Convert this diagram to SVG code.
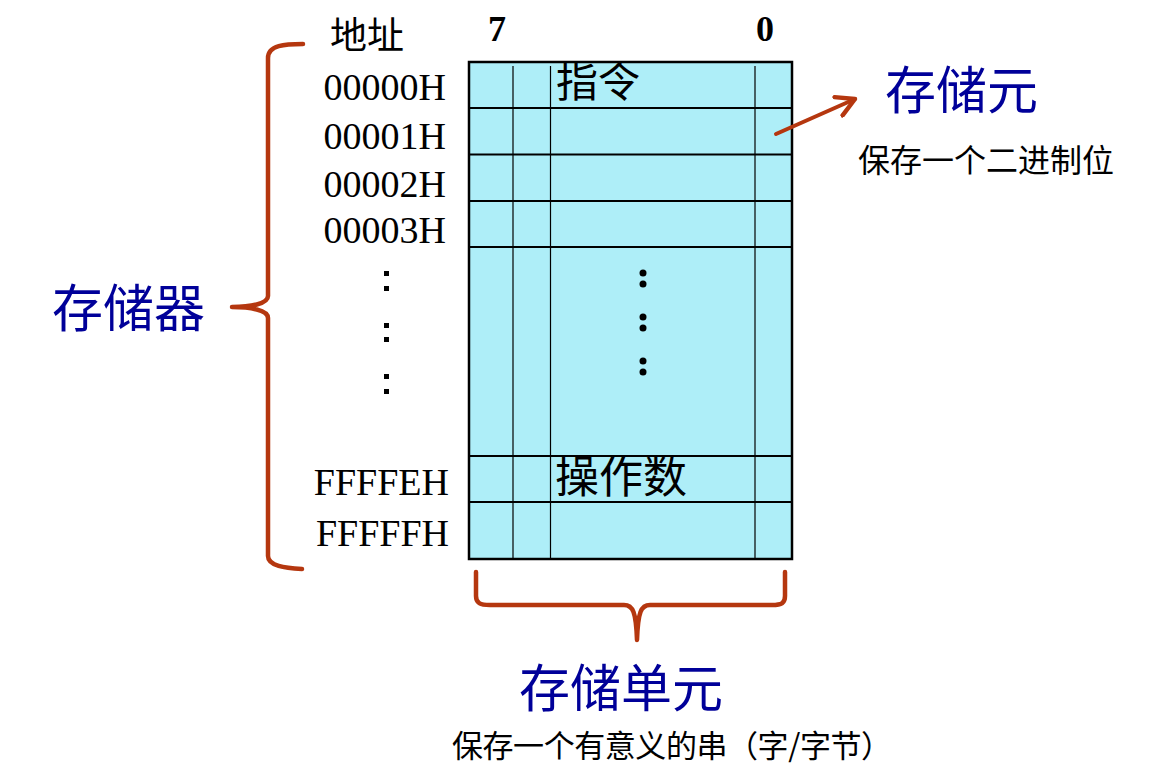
<svg xmlns="http://www.w3.org/2000/svg" width="1161" height="777" viewBox="0 0 1161 777">
<style>
.addr{font-family:"Liberation Serif","Times New Roman",serif;font-size:38px;fill:#000;text-anchor:end}
.bit{font-family:"Liberation Serif",serif;font-size:36px;font-weight:bold;fill:#000;text-anchor:middle}
.cn{font-family:"Noto Sans CJK SC",sans-serif;fill:#000}
.title{font-family:"Noto Sans CJK SC",sans-serif;fill:#000099;font-size:51px}
.brace{fill:none;stroke:#B5370F;stroke-width:4.5;stroke-linecap:round;stroke-linejoin:round}
.row{stroke:#000;stroke-width:2}
.col{stroke:#000;stroke-width:1.2}
</style>
<defs>
<marker id="arr" viewBox="0 0 12 12" refX="10" refY="6" markerWidth="6" markerHeight="6" orient="auto" markerUnits="strokeWidth">
<path d="M1,1 L10,6 L1,11" fill="none" stroke="#B5370F" stroke-width="2.2" stroke-linecap="round" stroke-linejoin="round"/>
</marker>
</defs>
<rect width="1161" height="777" fill="#fff"/>

<g id="memory">
<rect x="469" y="62" width="323" height="497" fill="#AEEEF8"/>
<line class="col" x1="513" y1="66" x2="513" y2="559"/>
<line class="col" x1="550.5" y1="66" x2="550.5" y2="559"/>
<line class="col" x1="755" y1="66" x2="755" y2="559"/>
<line class="row" x1="469" y1="108" x2="792" y2="108"/>
<line class="row" x1="469" y1="154.5" x2="792" y2="154.5"/>
<line class="row" x1="469" y1="201" x2="792" y2="201"/>
<line class="row" x1="469" y1="247" x2="792" y2="247"/>
<line class="row" x1="469" y1="456" x2="792" y2="456"/>
<line class="row" x1="469" y1="502" x2="792" y2="502"/>
<rect x="469" y="62" width="323" height="497" fill="none" stroke="#000" stroke-width="2.5"/>
<text class="cn" x="556" y="97" font-size="42">指令</text>
<text class="cn" x="555" y="493" font-size="44">操作数</text>
<g fill="#000">
<circle cx="643" cy="273" r="3.5"/><circle cx="643" cy="284" r="3.5"/>
<circle cx="643" cy="317" r="3.5"/><circle cx="643" cy="328" r="3.5"/>
<circle cx="643" cy="361" r="3.5"/><circle cx="643" cy="372" r="3.5"/>
</g>
</g>

<g id="bits">
<text class="bit" x="497" y="41">7</text>
<text class="bit" x="765" y="41">0</text>
</g>

<g id="addresses">
<text class="cn" x="330" y="49" font-size="37">地址</text>
<text class="addr" x="446" y="100">00000H</text>
<text class="addr" x="446" y="149">00001H</text>
<text class="addr" x="446" y="197">00002H</text>
<text class="addr" x="446" y="243">00003H</text>
<text class="addr" x="449" y="495">FFFFEH</text>
<text class="addr" x="449" y="546">FFFFFH</text>
<g fill="#000">
<rect x="384" y="271" width="5" height="5"/><rect x="384" y="286" width="5" height="5"/>
<rect x="384" y="323" width="5" height="5"/><rect x="384" y="337" width="5" height="5"/>
<rect x="384" y="374" width="5" height="5"/><rect x="384" y="389" width="5" height="5"/>
</g>
</g>

<g id="storage-label">
<text class="title" x="52" y="327">存储器</text>
</g>

<g id="cell-label">
<text class="title" x="885" y="109">存储元</text>
<text class="cn" x="858" y="172" font-size="32">保存一个二进制位</text>
</g>

<g id="unit-label">
<text class="title" x="519" y="707">存储单元</text>
<text class="cn" x="452" y="757" font-size="31" textLength="440" lengthAdjust="spacing">保存一个有意义的串（字/字节）</text>
</g>

<g id="connectors">
<path class="brace" d="M303,44 C285,44 268,45 268,58 L268,296 C268,304 250,307 232,307 C250,307 268,310 268,318 L268,556 C268,566 285,568 302,569"/>
<path class="brace" d="M476,572 L476,596 C476,603 480,605 490,605 L624,605 C633,605 636,612 637,640 C638,612 641,605 650,605 L772,605 C782,605 785,603 785,596 L785,572"/>
<line x1="776" y1="134" x2="855" y2="99" stroke="#B5370F" stroke-width="4" stroke-linecap="round" marker-end="url(#arr)"/>
</g>
</svg>
